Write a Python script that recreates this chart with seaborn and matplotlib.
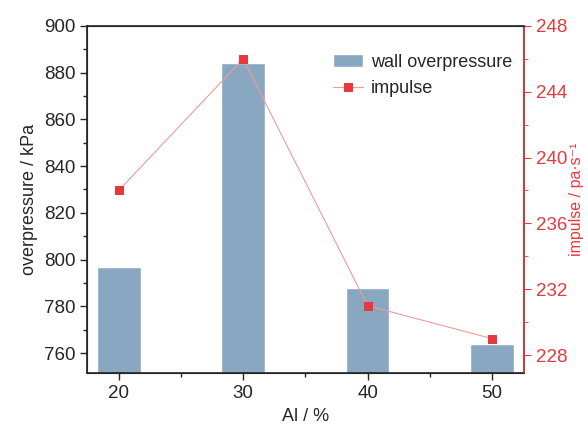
import seaborn as sns
import matplotlib.pyplot as plt
import pandas as pd
from matplotlib.ticker import MultipleLocator

al = [20, 30, 40, 50]
overpressure = [797, 884, 788, 764]
impulse = [238, 246, 231, 229]

df = pd.DataFrame({'al': al, 'overpressure': overpressure, 'impulse': impulse})

sns.set_style('ticks')
plt.rcParams['font.family'] = ['Liberation Sans', 'DejaVu Sans']

fig, ax = plt.subplots(figsize=(5.88, 4.30), dpi=100)
fig.subplots_adjust(left=0.148, right=0.892, top=0.94, bottom=0.132)

sns.barplot(data=df, x='al', y='overpressure', native_scale=True, width=0.35,
            color='#8aa7c2', saturation=1, ax=ax, label='wall overpressure')
ax.set_xlim(17.45, 52.6)
ax.set_ylim(751.4, 900)
ax.xaxis.set_major_locator(MultipleLocator(10))
ax.xaxis.set_minor_locator(MultipleLocator(5))
ax.yaxis.set_major_locator(MultipleLocator(20))
ax.yaxis.set_minor_locator(MultipleLocator(10))
ax.set_xlabel('Al / %', fontsize=13)
ax.set_ylabel('overpressure / kPa', fontsize=13)
ax.tick_params(axis='both', which='major', labelsize=13.5, direction='out', length=5, width=1)
ax.tick_params(axis='both', which='minor', direction='out', length=3, width=1)
for s in ax.spines.values():
    s.set_linewidth(1.2)
    s.set_color('#222222')

ax2 = ax.twinx()
sns.lineplot(data=df, x='al', y='impulse', ax=ax2, color='#f29a9a', linewidth=0.8,
             marker='s', markersize=5.5, markerfacecolor='#e8383d', markeredgecolor='#e8383d',
             label='impulse', legend=False)
ax2.set_ylim(226.9, 248)
ax2.yaxis.set_major_locator(MultipleLocator(4))
ax2.yaxis.set_minor_locator(MultipleLocator(2))
red = '#e8383d'
ax2.spines['right'].set_color(red)
ax2.spines['right'].set_linewidth(1.2)
ax2.tick_params(axis='y', which='both', colors=red, labelsize=13.5, direction='out')
ax2.tick_params(axis='y', which='major', length=5)
ax2.tick_params(axis='y', which='minor', length=3)
ax2.set_ylabel('impulse / pa·s⁻¹', fontsize=11.5, color=red, labelpad=1)
ax2.set_xlim(17.45, 52.6)

h1, l1 = ax.get_legend_handles_labels()
h2, l2 = ax2.get_legend_handles_labels()
ax2.legend(h1 + h2, l1 + l2, loc='upper right', bbox_to_anchor=(1.0, 0.955),
           frameon=False, fontsize=13, handlelength=1.7, handletextpad=0.4,
           borderaxespad=0.3, labelspacing=0.5)
if ax.get_legend():
    ax.get_legend().remove()

fig.savefig('out.png', dpi=100)
